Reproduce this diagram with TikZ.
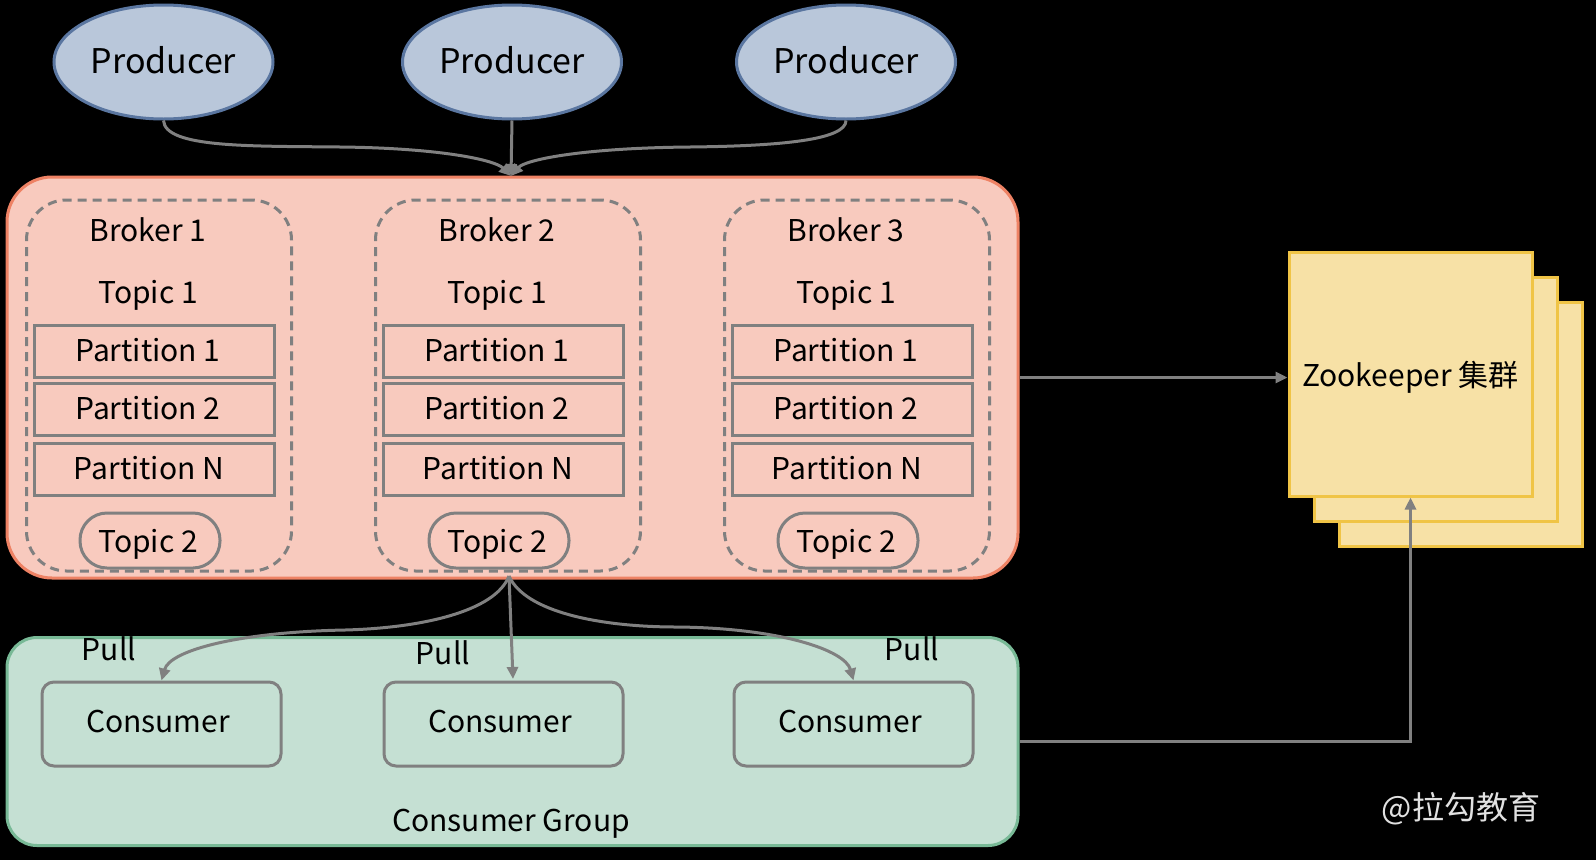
\documentclass[tikz,border=0pt]{standalone}
\usepackage{fontspec}
\setmainfont{Noto Sans CJK SC}
\usetikzlibrary{arrows.meta,shapes.geometric}
\definecolor{prodfill}{RGB}{185,199,218}
\definecolor{prodline}{RGB}{90,118,160}
\definecolor{brokerfill}{RGB}{248,202,190}
\definecolor{brokerline}{RGB}{238,130,100}
\definecolor{groupfill}{RGB}{197,224,211}
\definecolor{groupline}{RGB}{120,185,150}
\definecolor{zkfill}{RGB}{247,225,166}
\definecolor{zkline}{RGB}{240,196,70}
\definecolor{linegray}{RGB}{128,128,128}
\definecolor{wm}{RGB}{225,225,225}
\tikzset{
  txt/.style={font=\fontsize{30}{36}\selectfont, text=black, inner sep=0pt, text depth=0pt},
  prod/.style={ellipse, draw=prodline, fill=prodfill, line width=3pt, minimum width=219pt, minimum height=114pt, txt, font=\fontsize{34}{40}\selectfont, text depth=4pt},
  brokerbg/.style={draw=brokerline, fill=brokerfill, line width=3pt, rounded corners=45pt, minimum width=1011pt, minimum height=401pt},
  groupbg/.style={draw=groupline, fill=groupfill, line width=3pt, rounded corners=30pt, minimum width=1011pt, minimum height=208pt},
  brokerdash/.style={draw=linegray, dash pattern=on 9pt off 6pt, line width=3pt, rounded corners=40pt, minimum width=265pt, minimum height=371pt},
  part/.style={draw=linegray, line width=3pt, minimum width=240pt, minimum height=52pt, txt, text depth=3pt},
  pill/.style={draw=linegray, line width=3pt, rounded corners=27pt, minimum width=140pt, minimum height=55pt, txt},
  cons/.style={draw=linegray, line width=3pt, rounded corners=12pt, minimum width=239pt, minimum height=84pt, txt, text depth=6pt},
  zk/.style={draw=zkline, fill=zkfill, line width=3pt, minimum width=243pt, minimum height=244pt, txt},
  arr/.style={draw=linegray, line width=3pt, -{Triangle[length=12pt,width=11pt]}},
}
\begin{document}
\begin{tikzpicture}[x=1pt,y=-1pt]
\fill[black] (0,0) rectangle (1596,860);
\useasboundingbox (0,0) rectangle (1596,860);

% producers
\node[prod] (p1) at (163.5,62) {Producer};
\node[prod] (p2) at (512,62) {Producer};
\node[prod] (p3) at (846,62) {Producer};

% broker cluster
\node[brokerbg] (broker) at (512.5,377.5) {};
\node[groupbg] (group) at (512.5,741.5) {};

\foreach \i/\off in {1/0,2/349,3/698}{
  \node[brokerdash] (b\i) at (159+\off,385.5) {};
  \node[txt] (bt\i) at (148+\off,230) {Broker \i};
  \node[txt] (ta\i) at (148+\off,292) {Topic 1};
  \node[part] (pa\i) at (154+\off,351) {Partition 1\hspace*{12pt}};
  \node[part] (pb\i) at (154+\off,409) {Partition 2\hspace*{12pt}};
  \node[part] (pn\i) at (154+\off,469) {Partition N\hspace*{10pt}};
  \node[pill] (tb\i) at (150+\off,540.5) {Topic 2\hspace*{4pt}};
}
\foreach \i/\x in {1/161.5,2/503.5,3/853.5}{
  \node[cons] (c\i) at (\x,724) {Consumer\hspace*{7pt}};
}

\node[txt] (pull1) at (109,649) {Pull};
\node[txt] (pull2) at (443,653) {Pull};
\node[txt] (pull3) at (912,649) {Pull};
\node[txt] (cg) at (511,820) {Consumer Group};

% zookeeper
\node[zk] (zk3) at (1460.5,424) {};
\node[zk] (zk2) at (1435.5,399) {};
\node[zk] (zk1) at (1410.5,374) {Zookeeper 集群};

% producer arrows
\coordinate (bin) at (511,176);
\draw[arr] (p1.south) .. controls (165,148) and (250,146) .. (340,147) .. controls (440,148) and (495,160) .. (bin);
\draw[arr] (p2.south) -- (bin);
\draw[arr] (p3.south) .. controls (846,140) and (780,146) .. (690,147) .. controls (580,148) and (525,160) .. (bin);

% consumer arrows
\coordinate (bout) at (509,576);
\coordinate (c2in) at (513,679);
\draw[arr] (bout) .. controls (495,612) and (420,628) .. (345,630) .. controls (240,632) and (170,650) .. (c1.north);
\draw[arr] (bout) -- (c2in);
\draw[arr] (bout) .. controls (525,612) and (600,627) .. (677,627) .. controls (780,628) and (845,650) .. (c3.north);

% zookeeper arrows
\draw[arr] (broker.east) -- (broker.east -| zk1.west);
\draw[arr] (group.east) -| (zk1.south);

\node[font=\fontsize{32}{38}\selectfont, text=wm, inner sep=0pt] (wmark) at (1461,809) {@拉勾教育};
\end{tikzpicture}
\end{document}
